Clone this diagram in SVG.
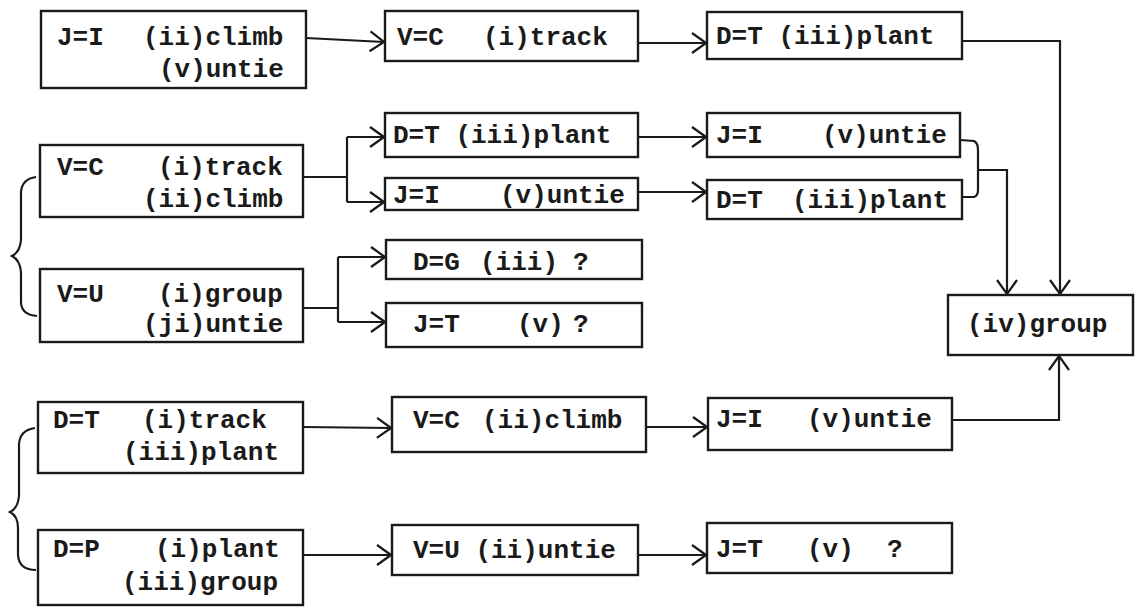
<svg xmlns="http://www.w3.org/2000/svg" width="1139" height="615" viewBox="0 0 1139 615">
  <defs>
    <marker id="arr" markerUnits="userSpaceOnUse" markerWidth="16" markerHeight="22" viewBox="0 0 16 22" refX="15" refY="11" orient="auto">
      <path d="M1,1 L15,11 L1,21" fill="none" stroke="#1a1a1a" stroke-width="2.2"/>
    </marker>
    <style>
      .box { fill: #ffffff; stroke: #1a1a1a; stroke-width: 2.4; }
      .t { font-family: "Liberation Mono", "Courier New", monospace; font-size: 26px; font-weight: bold; fill: #1a1a1a; }
      .ln { fill: none; stroke: #1a1a1a; stroke-width: 2.2; }
    </style>
  </defs>
  <rect width="1139" height="615" fill="#ffffff"/>

  <!-- connectors -->
  <g id="connectors">
    <path class="ln" d="M306,38 L384,42" marker-end="url(#arr)"/>
    <path class="ln" d="M638,43 L706,43" marker-end="url(#arr)"/>
    <path class="ln" d="M962,41 L1060,41 L1060,294" marker-end="url(#arr)"/>

    <path class="ln" d="M303,177 L347,177 M347,137 L347,202 M347,137 L384,137" marker-end="url(#arr)"/>
    <path class="ln" d="M347,202 L384,202" marker-end="url(#arr)"/>
    <path class="ln" d="M638,137 L706,137" marker-end="url(#arr)"/>
    <path class="ln" d="M638,192 L706,192" marker-end="url(#arr)"/>
    <path class="ln" d="M960,140 L974,141 Q978,143 978,150 L978,190 Q978,196 974,197 L962,197"/>
    <path class="ln" d="M979,170 L1007,170 L1007,294" marker-end="url(#arr)"/>

    <path class="ln" d="M303,308 L338,308 M338,257 L338,322 M338,257 L385,257" marker-end="url(#arr)"/>
    <path class="ln" d="M338,322 L385,322" marker-end="url(#arr)"/>

    <path class="ln" d="M303,427 L391,428" marker-end="url(#arr)"/>
    <path class="ln" d="M646,427 L707,427" marker-end="url(#arr)"/>
    <path class="ln" d="M952,420 L1059,420 L1059,356" marker-end="url(#arr)"/>

    <path class="ln" d="M303,555 L391,555" marker-end="url(#arr)"/>
    <path class="ln" d="M638,555 L706,555" marker-end="url(#arr)"/>

    <!-- grouping braces on the left -->
    <path class="ln" d="M36,177 Q22,179 21,192 L21,240 Q20,252 12,256 Q20,260 21,272 L21,303 Q22,315 37,316"/>
    <path class="ln" d="M35,428 Q20,430 19,444 L19,496 Q18,508 10,512 Q18,516 18,528 L18,555 Q19,570 36,570"/>
  </g>

  <!-- top row -->
  <g id="n-ji-1">
    <rect class="box" x="41" y="11" width="265" height="77"/>
    <text class="t" x="57" y="45">J=I</text>
    <text class="t" x="143" y="45">(ii)climb</text>
    <text class="t" x="159" y="77">(v)untie</text>
  </g>
  <g id="n-vc-1">
    <rect class="box" x="385" y="11" width="253" height="50"/>
    <text class="t" x="397" y="45">V=C</text>
    <text class="t" x="483" y="45">(i)track</text>
  </g>
  <g id="n-dt-1">
    <rect class="box" x="707" y="12" width="255" height="47"/>
    <text class="t" x="716" y="44">D=T (iii)plant</text>
  </g>

  <!-- second group -->
  <g id="n-vc-2">
    <rect class="box" x="40" y="145" width="263" height="72"/>
    <text class="t" x="57" y="175">V=C</text>
    <text class="t" x="158" y="175">(i)track</text>
    <text class="t" x="143" y="207">(ii)climb</text>
  </g>
  <g id="n-dt-2">
    <rect class="box" x="385" y="113" width="253" height="44"/>
    <text class="t" x="393" y="143">D=T (iii)plant</text>
  </g>
  <g id="n-ji-2">
    <rect class="box" x="385" y="178" width="253" height="32"/>
    <text class="t" x="393" y="203">J=I</text>
    <text class="t" x="500" y="203">(v)untie</text>
  </g>
  <g id="n-ji-3">
    <rect class="box" x="707" y="113" width="253" height="44"/>
    <text class="t" x="716" y="143">J=I</text>
    <text class="t" x="822" y="143">(v)untie</text>
  </g>
  <g id="n-dt-3">
    <rect class="box" x="707" y="180" width="255" height="39"/>
    <text class="t" x="716" y="208">D=T</text>
    <text class="t" x="792" y="208">(iii)plant</text>
  </g>

  <!-- third group -->
  <g id="n-vu-1">
    <rect class="box" x="40" y="269" width="263" height="73"/>
    <text class="t" x="57" y="302">V=U</text>
    <text class="t" x="158" y="302">(i)group</text>
    <text class="t" x="143" y="332">(ji)untie</text>
  </g>
  <g id="n-dg">
    <rect class="box" x="386" y="240" width="256" height="39"/>
    <text class="t" x="413" y="270">D=G</text>
    <text class="t" x="480" y="270">(iii)</text>
    <text class="t" x="573" y="270">?</text>
  </g>
  <g id="n-jt-1">
    <rect class="box" x="386" y="303" width="256" height="44"/>
    <text class="t" x="413" y="332">J=T</text>
    <text class="t" x="517" y="332">(v)</text>
    <text class="t" x="573" y="332">?</text>
  </g>

  <!-- merge target -->
  <g id="n-group">
    <rect class="box" x="948" y="295" width="185" height="60"/>
    <text class="t" x="967" y="332">(iv)group</text>
  </g>

  <!-- fourth group -->
  <g id="n-dt-4">
    <rect class="box" x="38" y="402" width="265" height="71"/>
    <text class="t" x="53" y="428">D=T</text>
    <text class="t" x="142" y="428">(i)track</text>
    <text class="t" x="123" y="460">(iii)plant</text>
  </g>
  <g id="n-vc-3">
    <rect class="box" x="392" y="397" width="254" height="55"/>
    <text class="t" x="413" y="428">V=C</text>
    <text class="t" x="482" y="428">(ii)climb</text>
  </g>
  <g id="n-ji-4">
    <rect class="box" x="708" y="398" width="244" height="52"/>
    <text class="t" x="716" y="427">J=I</text>
    <text class="t" x="807" y="427">(v)untie</text>
  </g>

  <!-- fifth group -->
  <g id="n-dp">
    <rect class="box" x="38" y="530" width="265" height="75"/>
    <text class="t" x="53" y="557">D=P</text>
    <text class="t" x="155" y="557">(i)plant</text>
    <text class="t" x="122" y="590">(iii)group</text>
  </g>
  <g id="n-vu-2">
    <rect class="box" x="392" y="525" width="246" height="50"/>
    <text class="t" x="413" y="558">V=U (ii)untie</text>
  </g>
  <g id="n-jt-2">
    <rect class="box" x="707" y="523" width="245" height="50"/>
    <text class="t" x="716" y="557">J=T</text>
    <text class="t" x="807" y="557">(v)</text>
    <text class="t" x="887" y="557">?</text>
  </g>
</svg>
